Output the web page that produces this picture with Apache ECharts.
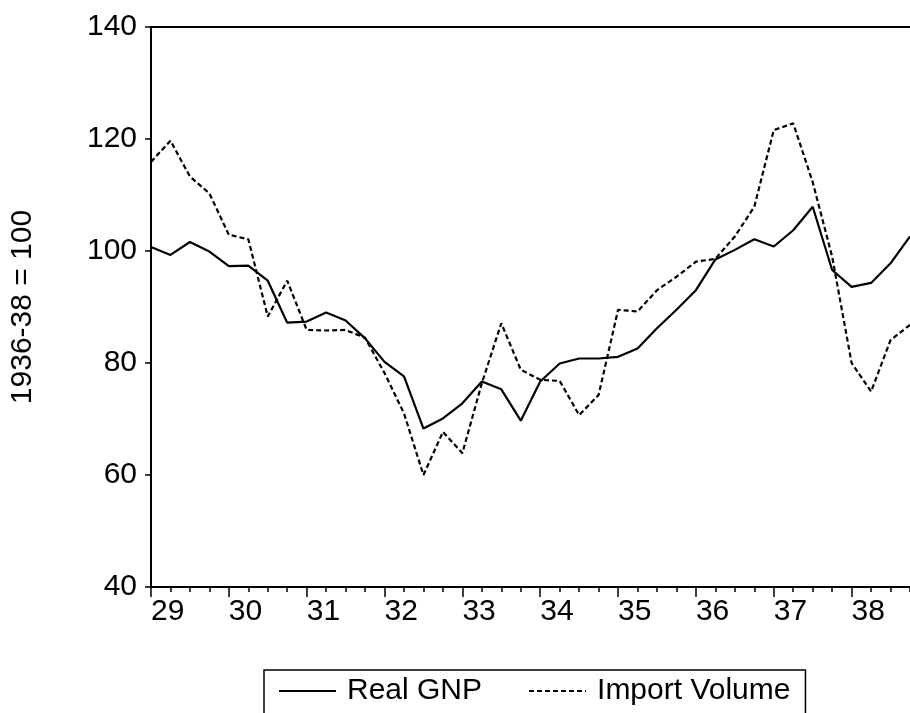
<!DOCTYPE html>
<html>
<head>
<meta charset="utf-8">
<script src="https://cdn.jsdelivr.net/npm/echarts@6/dist/echarts.min.js"></script>
<style>
html,body{margin:0;padding:0;background:#fff;}
#chart{width:910px;height:713px;}
</style>
</head>
<body>
<div id="chart"></div>
<script>
const years = ['29','30','31','32','33','34','35','36','37','38'];
const quarters = ['Q1','Q2','Q3','Q4'];
const yTicks = {min: 40, max: 140, interval: 20};
const yTitle = '1936-38 = 100';
const seriesNames = ['Real GNP', 'Import Volume'];
const realGNP = [100.7, 99.3, 101.6, 99.9, 97.3, 97.4, 94.7, 87.2, 87.4, 89.0,
  87.6, 84.4, 80.2, 77.6, 68.3, 70.1, 72.8, 76.7, 75.3, 69.7,
  76.7, 79.9, 80.8, 80.8, 81.1, 82.6, 86.2, 89.5, 93.0, 98.5,
  100.2, 102.1, 100.8, 103.7, 107.9, 96.6, 93.6, 94.3, 97.8, 102.6];
const importVolume = [115.9, 119.7, 113.3, 110.3, 102.9, 102.1, 88.3, 94.7, 85.9, 85.8,
  85.9, 84.5, 78.2, 71.0, 60.0, 67.7, 63.9, 76.4, 87.1, 78.8,
  77.0, 76.8, 70.7, 74.3, 89.5, 89.2, 93.0, 95.4, 98.1, 98.6,
  102.6, 107.9, 121.6, 122.8, 112.3, 99.0, 80.0, 74.9, 84.1, 86.8];

const categories = [];
years.forEach(y => quarters.forEach(q => categories.push(y + q)));

const FONT = '"Liberation Sans", Arial, Helvetica, sans-serif';
const FS = 30;
const chart = echarts.init(document.getElementById('chart'), null, {renderer: 'canvas'});
chart.setOption({
  animation: false,
  backgroundColor: '#fff',
  textStyle: {fontFamily: FONT, color: '#000'},
  grid: {left: 149, right: 0, top: 27, bottom: 126, containLabel: false},
  xAxis: [
    {
      type: 'category', data: categories, boundaryGap: false, position: 'bottom',
      axisLine: {lineStyle: {color: '#000', width: 2}},
      axisTick: {interval: 0, length: 5, lineStyle: {color: '#000', width: 1.5}},
      axisLabel: {
        interval: 3, align: 'left', margin: 10, fontSize: FS, color: '#000', fontFamily: FONT,
        formatter: v => v.slice(0, 2)
      },
      splitLine: {show: false}
    },
    {
      type: 'category', data: categories, boundaryGap: false, position: 'bottom',
      axisLine: {show: false},
      axisTick: {interval: 3, length: 10, lineStyle: {color: '#000', width: 1.5}},
      axisLabel: {show: false},
      splitLine: {show: false}
    },
    {
      type: 'category', data: categories, boundaryGap: false, position: 'top',
      axisLine: {show: true, lineStyle: {color: '#000', width: 2}},
      axisTick: {show: false},
      axisLabel: {show: false},
      splitLine: {show: false}
    }
  ],
  yAxis: {
    type: 'value', min: yTicks.min, max: yTicks.max, interval: yTicks.interval,
    axisLine: {show: true, lineStyle: {color: '#000', width: 2}},
    axisTick: {show: true, length: 6, lineStyle: {color: '#000', width: 1.5}},
    axisLabel: {fontSize: FS, color: '#000', margin: 14, fontFamily: FONT},
    splitLine: {show: false},
    name: yTitle, nameLocation: 'middle', nameGap: 113,
    nameTextStyle: {fontSize: FS, color: '#000', fontFamily: FONT}
  },
  legend: {
    data: seriesNames,
    left: 264, top: 670,
    itemWidth: 57, itemHeight: 14, itemGap: 46,
    padding: [6, 15, 20, 14],
    borderColor: '#000', borderWidth: 1.5,
    itemStyle: {opacity: 0},
    textStyle: {fontSize: FS, color: '#000', fontFamily: FONT, padding: [0, 0, 0, 6]}
  },
  series: [
    {
      name: seriesNames[0], type: 'line', data: realGNP, xAxisIndex: 0,
      symbol: 'none', showSymbol: false,
      lineStyle: {color: '#000', width: 2.2, type: 'solid'},
      itemStyle: {color: '#000'}
    },
    {
      name: seriesNames[1], type: 'line', data: importVolume, xAxisIndex: 0,
      symbol: 'none', showSymbol: false,
      lineStyle: {color: '#000', width: 2.2, type: [5, 3]},
      itemStyle: {color: '#000'}
    }
  ]
});
</script>
</body>
</html>
